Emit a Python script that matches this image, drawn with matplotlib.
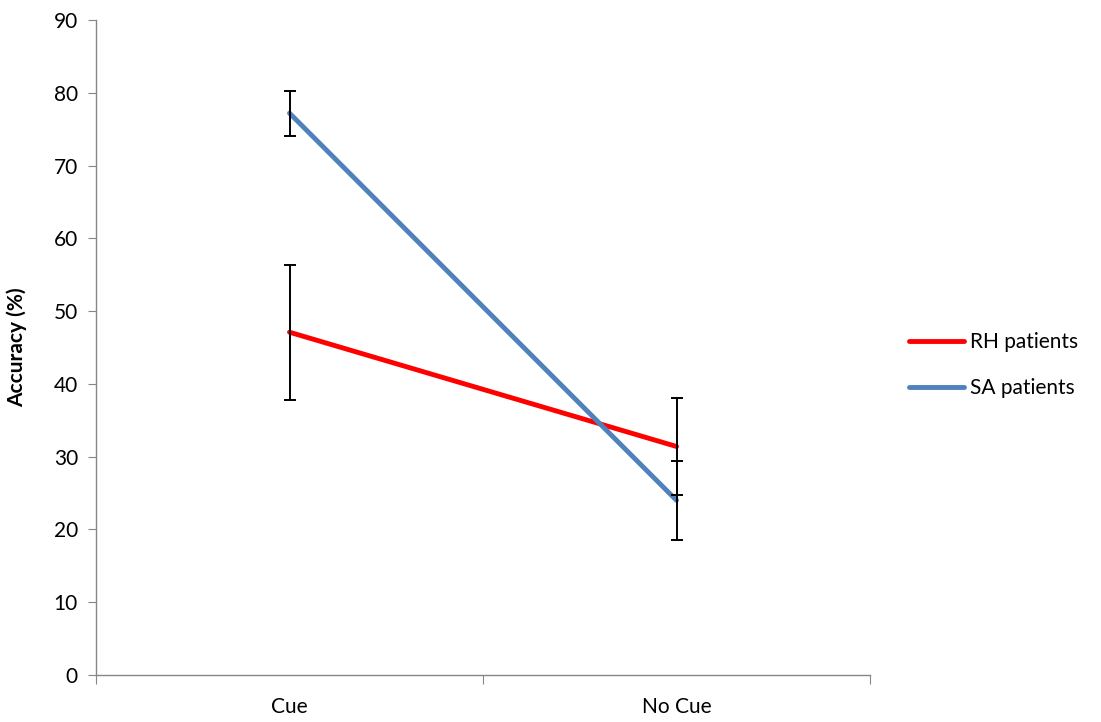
import numpy as np
import matplotlib
matplotlib.use("Agg")
import matplotlib.pyplot as plt

plt.rcParams['font.family'] = ['Lato', 'DejaVu Sans']

conditions = ["Cue", "No Cue"]
rh_accuracy = [47.1, 31.4]
rh_error = [9.3, 6.6]
sa_accuracy = [77.2, 24.0]
sa_error = [3.1, 5.4]

fig = plt.figure(figsize=(11.01, 7.22), dpi=100)
ax = fig.add_axes([0.0872, 0.0651, 0.7030, 0.9072])

x = np.arange(len(conditions)) + 0.5

ax.plot(x, rh_accuracy, color="#FF0000", lw=3.5, solid_capstyle="round", label="RH patients", zorder=2)
ax.plot(x, sa_accuracy, color="#4F81BD", lw=3.5, solid_capstyle="round", label="SA patients", zorder=2)
ax.errorbar(x, rh_accuracy, yerr=rh_error, fmt="none", ecolor="black", elinewidth=1.4, capsize=4.5, capthick=1.4, zorder=3)
ax.errorbar(x, sa_accuracy, yerr=sa_error, fmt="none", ecolor="black", elinewidth=1.4, capsize=4.5, capthick=1.4, zorder=3)

ax.set_xlim(0, 2)
ax.set_ylim(0, 90)
ax.set_yticks(range(0, 91, 10))
ax.set_xticks([0, 1, 2])
ax.set_xticklabels([])
ax.set_xticks(x, minor=True)
ax.set_xticklabels(conditions, minor=True)
ax.tick_params(axis="x", which="minor", length=0, pad=16, labelsize=15)
ax.tick_params(axis="x", which="major", length=6.5, color="#868686", direction="out")
ax.tick_params(axis="y", length=6, color="#868686", labelsize=15, pad=7)

for s in ["top", "right"]:
    ax.spines[s].set_visible(False)
for s in ["left", "bottom"]:
    ax.spines[s].set_color("#868686")
    ax.spines[s].set_linewidth(1)

ax.set_ylabel("Accuracy (%)", fontsize=15, fontweight="bold")
ax.yaxis.set_label_coords(-0.089, 0.5)

fig.legend(loc="center left", bbox_to_anchor=(0.8256, 0.494), frameon=False,
           fontsize=15, handlelength=2.64, handletextpad=0.3, labelspacing=1.25,
           borderpad=0, borderaxespad=0)

fig.savefig("out.png", dpi=100)
